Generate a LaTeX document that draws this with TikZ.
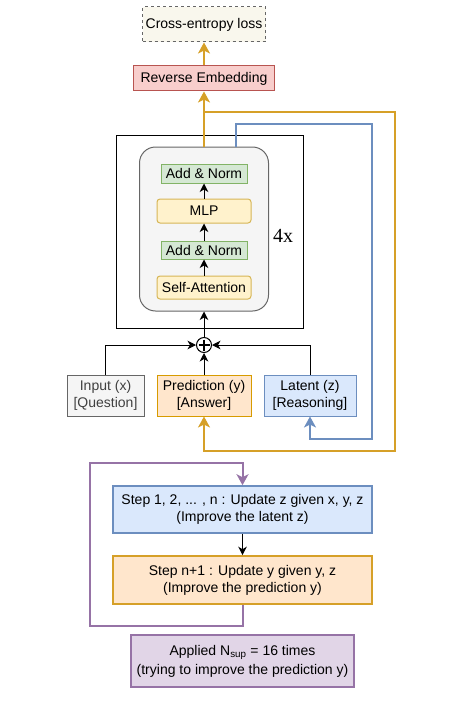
\documentclass[tikz,border=0pt]{standalone}
\usepackage{fontspec}
\setmainfont{Liberation Sans}
\newfontfamily\serifx{Liberation Serif}
\usetikzlibrary{arrows.meta,calc}
\definecolor{cefill}{HTML}{F9F7ED}
\definecolor{grayd}{HTML}{666666}
\definecolor{grayf}{HTML}{F5F5F5}
\definecolor{redf}{HTML}{F8CECC}
\definecolor{redd}{HTML}{B85450}
\definecolor{greenf}{HTML}{D5E8D4}
\definecolor{greend}{HTML}{82B366}
\definecolor{yellowf}{HTML}{FFF2CC}
\definecolor{yellowd}{HTML}{D6B656}
\definecolor{orangef}{HTML}{FFE6CC}
\definecolor{oranged}{HTML}{D79B00}
\definecolor{orangel}{RGB}{214,160,40}
\definecolor{bluef}{HTML}{DAE8FC}
\definecolor{blued}{HTML}{6C8EBF}
\definecolor{purplef}{HTML}{E1D5E7}
\definecolor{purpled}{HTML}{9673A6}
\tikzset{
  box/.style={draw, inner sep=0pt, align=center, line width=1pt},
  cebox/.style={box, fill=cefill, draw=grayd, dashed},
  rebox/.style={box, fill=redf, draw=redd},
  grbox/.style={box, fill=greenf, draw=greend},
  ylbox/.style={box, fill=yellowf, draw=yellowd, rounded corners=3pt},
  gybox/.style={box, fill=grayf, draw=grayd},
  orbox/.style={box, fill=orangef, draw=oranged},
  blbox/.style={box, fill=bluef, draw=blued},
  pubox/.style={box, fill=purplef, draw=purpled, line width=1.6pt},
  bigor/.style={box, fill=orangef, draw=orangel, line width=1.6pt},
  bigbl/.style={box, fill=bluef, draw=blued, line width=1.6pt},
  barrow/.style={-{Stealth[length=8.5pt,width=8.5pt,inset=2.5pt]}, line width=1pt, black},
  oline/.style={draw=orangel, line width=2pt, -{Stealth[length=11pt,width=12pt,inset=3pt]}},
  bline/.style={draw=blued, line width=2pt, -{Stealth[length=11pt,width=12pt,inset=3pt]}},
  pline/.style={draw=purpled, line width=2pt, -{Stealth[length=11pt,width=12pt,inset=3pt]}},
}
\begin{document}
\begin{tikzpicture}[x=1pt,y=-1pt, font=\fontsize{14}{17}\selectfont]
\useasboundingbox (0,0) rectangle (469,706);
% top
\node[cebox, minimum width=123pt, minimum height=35pt] (ce) at (204,24.5) {Cross-entropy loss};
\node[rebox, minimum width=141pt, minimum height=25pt] (re) at (204,78.5) {Reverse Embedding};
% transformer
\node[draw, line width=1pt, minimum width=187pt, minimum height=193pt, inner sep=0pt] (outer) at (209.5,231.5) {};
\node[gybox, rounded corners=16pt, minimum width=129pt, minimum height=164pt] (inner) at (204,229) {};
\node[grbox, minimum width=86pt, minimum height=19pt] (an1) at (204,173.5) {Add \& Norm};
\node[ylbox, minimum width=94pt, minimum height=24pt] (mlp) at (204,211) {MLP};
\node[grbox, minimum width=86pt, minimum height=18pt] (an2) at (204,250) {Add \& Norm};
\node[ylbox, minimum width=94pt, minimum height=23pt] (sa) at (204,287.5) {Self-Attention};
\node[font=\serifx\fontsize{20}{22}\selectfont] (four) at (283,236) {4x};
\draw[barrow] (sa) -- (an2);
\draw[barrow] (an2) -- (mlp);
\draw[barrow] (mlp) -- (an1);
% plus
\node[draw, circle, line width=1pt, minimum size=15pt, inner sep=0pt] (plus) at (204,345) {};
\draw[line width=1.2pt] ($(plus.north)+(0,2.5)$) -- ($(plus.south)+(0,-2.5)$)
  ($(plus.west)+(2.5,0)$) -- ($(plus.east)+(-2.5,0)$);
\draw[barrow] (plus) -- (inner.south);
% inputs
\node[gybox, minimum width=77pt, minimum height=41pt, text=black!75] (input) at (105.5,395.5) {Input (x)\\{}[Question]};
\node[orbox, minimum width=94pt, minimum height=41pt] (pred) at (204,395.5) {Prediction (y)\\{}[Answer]};
\node[blbox, minimum width=92pt, minimum height=41pt] (latent) at (310,395.5) {Latent (z)\\{}[Reasoning]};
\draw[barrow] (input.north) |- (plus.west);
\draw[barrow] (latent.north) |- (plus.east);
\draw[barrow] (pred.north) -- (plus.south);
% feedback
\coordinate (oTop) at (204,112);
\coordinate (oCorner) at (395,451);
\coordinate (bStart) at (236,0);
\coordinate (bTop) at (236,124);
\coordinate (bCorner) at (372,439);
\draw[oline] (inner.north) -- (re.south);
\draw[oline] (re.north) -- (ce.south);
\draw[oline] (oTop) -| (oCorner) -| (pred.south);
\draw[bline] (inner.north -| bStart) -- (bTop) -| (bCorner) -| (latent.south);
% steps
\node[bigbl, minimum width=259pt, minimum height=47pt] (step1) at (242.5,509.5) {Step 1, 2, ... , n : Update z given x, y, z\\(Improve the latent z)};
\node[bigor, minimum width=259pt, minimum height=48pt] (stepn) at (242.5,580) {Step n+1 : Update y given y, z\\(Improve the prediction y)};
\draw[barrow] (step1) -- (stepn);
\coordinate (pBot) at (242.5,626);
\coordinate (pTop) at (90,463);
\draw[pline] (stepn.south) -- (pBot) -| (pTop) -| (step1.north);
\node[pubox, minimum width=223pt, minimum height=52pt] (applied) at (242.5,661) {Applied N\textsubscript{sup} = 16 times\\[2pt](trying to improve the prediction y)};
\end{tikzpicture}
\end{document}
